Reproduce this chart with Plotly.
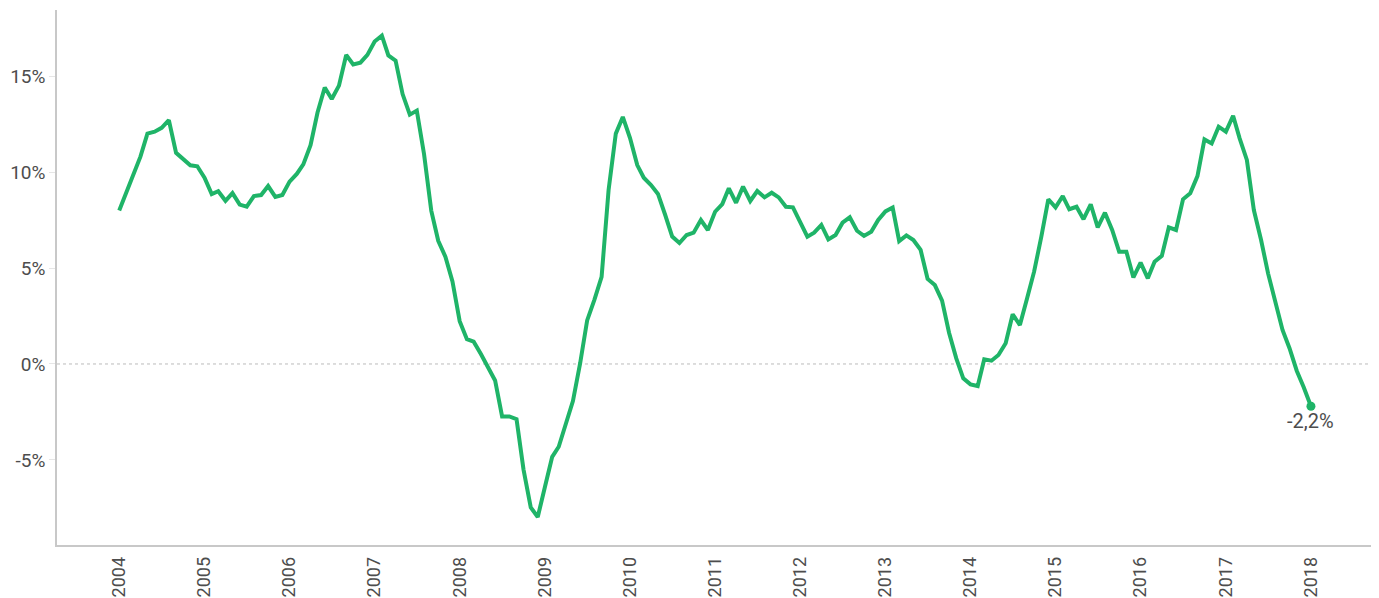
import pandas as pd
import plotly.graph_objects as go

# Year-over-year change, monthly, Jan 2004 .. Jan 2018 (percent)
values = [
    8.0, 9.0, 9.8, 10.8, 12.0, 12.1, 12.3, 12.7, 11.0, 10.7, 10.35, 10.3,          # 2004
    9.7, 8.85, 9.0, 8.5, 8.9, 8.3, 8.2, 8.75, 8.8, 9.27, 8.7, 8.8,                 # 2005
    9.5, 9.9, 10.4, 11.4, 13.1, 14.4, 13.8, 14.5, 16.1, 15.6, 15.7, 16.1,          # 2006
    16.8, 17.1, 16.07, 15.8, 14.06, 12.99, 13.2, 10.94, 7.99, 6.42, 5.58, 4.3,     # 2007
    2.23, 1.29, 1.16, 0.52, -0.18, -0.86, -2.73, -2.73, -2.88, -5.5, -7.47, -7.97, # 2008
    -6.4, -4.84, -4.31, -3.09, -1.93, 0.04, 2.27, 3.34, 4.54, 9.06, 12.0, 12.87,   # 2009
    11.77, 10.36, 9.7, 9.32, 8.86, 7.76, 6.64, 6.3, 6.72, 6.84, 7.5, 6.98,         # 2010
    7.93, 8.33, 9.15, 8.4, 9.24, 8.49, 9.01, 8.68, 8.92, 8.68, 8.19, 8.16,         # 2011
    7.41, 6.63, 6.84, 7.24, 6.49, 6.72, 7.36, 7.64, 6.94, 6.67, 6.89, 7.5,         # 2012
    7.95, 8.15, 6.4, 6.7, 6.46, 5.94, 4.43, 4.11, 3.3, 1.63, 0.29, -0.75,          # 2013
    -1.06, -1.15, 0.24, 0.17, 0.47, 1.08, 2.59, 2.03, 3.42, 4.81, 6.63, 8.58,      # 2014
    8.16, 8.75, 8.06, 8.19, 7.54, 8.32, 7.12, 7.88, 6.98, 5.85, 5.85, 4.51,        # 2015
    5.28, 4.46, 5.33, 5.63, 7.12, 6.98, 8.58, 8.89, 9.79, 11.7, 11.49, 12.36,      # 2016
    12.1, 12.93, 11.75, 10.63, 8.02, 6.46, 4.72, 3.33, 1.77, 0.82, -0.35, -1.21,   # 2017
    -2.2,                                                                           # 2018
]
dates = pd.date_range("2004-01-01", periods=len(values), freq="MS")

year_ticks = pd.date_range("2004-01-01", "2018-01-01", freq="YS")
y_ticks = [-5, 0, 5, 10, 15]
y_labels = ["-5%", "0%", "5%", "10%", "15%"]
last_label = "-2,2%"

green = "#1fb468"
grey_text = "#4d4d4d"

fig = go.Figure()
fig.add_trace(go.Scatter(x=dates, y=values, mode="lines",
                         line=dict(color=green, width=4), hoverinfo="skip"))
fig.add_trace(go.Scatter(x=[dates[-1]], y=[values[-1]], mode="markers",
                         marker=dict(color=green, size=9), hoverinfo="skip"))

# dotted zero line
fig.add_shape(type="line", xref="paper", x0=0, x1=1, yref="y", y0=0, y1=0,
              line=dict(color="#bbbbbb", width=1, dash="dot"), layer="below")

fig.add_annotation(x=dates[-1], y=values[-1], text=last_label, showarrow=False,
                   yshift=-15, xanchor="center", yanchor="middle",
                   font=dict(size=20, color=grey_text))

# page body has an 8px margin, so the figure is a bit smaller than the window
fig.update_layout(
    width=1371, height=590,
    margin=dict(l=49, r=7, t=2, b=53),
    plot_bgcolor="white", paper_bgcolor="white",
    showlegend=False,
    font=dict(family="Roboto, sans-serif", size=19, color=grey_text),
)
fig.update_xaxes(
    range=["2003-04-09", "2018-09-20"], automargin=False,
    tickvals=year_ticks, tickformat="%Y", tickangle=-90,
    tickfont=dict(size=18),
    showgrid=False, zeroline=False,
    showline=True, linecolor="#c8c8c8", linewidth=1.5,
    ticks="outside", ticklen=3, tickcolor="rgba(0,0,0,0)",
)
fig.update_yaxes(
    range=[-9.43, 18.44], automargin=False,
    tickvals=y_ticks, ticktext=y_labels,
    showgrid=False, zeroline=False,
    showline=True, linecolor="#c8c8c8", linewidth=1.5,
    ticks="outside", ticklen=6, tickcolor="#e6e6e6",
)

fig.write_html("out.html")
